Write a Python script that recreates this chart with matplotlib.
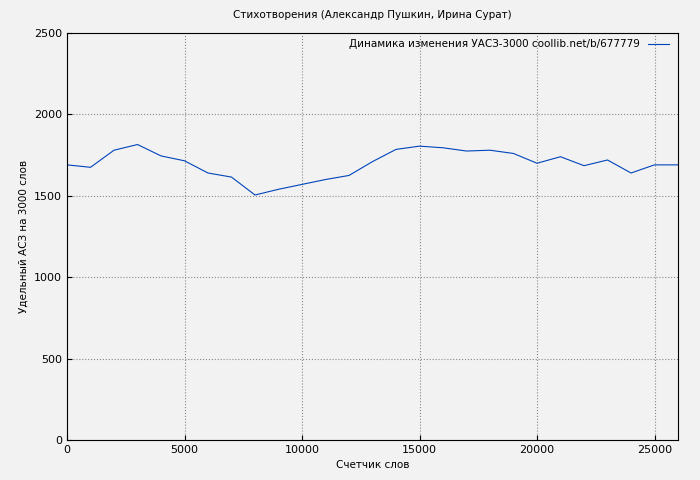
import matplotlib
matplotlib.use("Agg")
import matplotlib.pyplot as plt

words = [0, 1000, 2000, 3000, 4000, 5000, 6000, 7000, 8000, 9000, 10000, 11000, 12000, 13000,
         14000, 15000, 16000, 17000, 18000, 19000, 20000, 21000, 22000, 23000, 24000, 25000, 26000]
uasz = [1690, 1675, 1780, 1815, 1745, 1715, 1640, 1615, 1505, 1540, 1570, 1600, 1625, 1710,
        1785, 1805, 1795, 1775, 1780, 1760, 1700, 1740, 1685, 1720, 1640, 1690, 1690]

plt.rcParams['font.family'] = ['DejaVu Sans']
fig = plt.figure(figsize=(7, 4.8), dpi=100, facecolor='#f2f2f2')
ax = fig.add_axes([67/700, 40/480, 611/700, 407/480])
ax.set_facecolor('#f2f2f2')
ax.plot(words, uasz, color='#0044bb', linewidth=0.8, label='Динамика изменения УАСЗ-3000 coollib.net/b/677779')
ax.set_xlim(0, 26000)
ax.set_ylim(0, 2500)
ax.set_xticks(range(0, 26000, 5000))
ax.set_yticks(range(0, 2501, 500))
ax.grid(True, linestyle=':', color='#888888', linewidth=0.8)
ax.tick_params(labelsize=8, direction='in')
ax.set_xlabel('Счетчик слов', fontsize=7.5)
ax.set_ylabel('Удельный АСЗ на 3000 слов', fontsize=7.5)
ax.set_title('Стихотворения (Александр Пушкин, Ирина Сурат)', fontsize=7.5, pad=11)
ax.legend(loc='upper right', fontsize=7.5, frameon=False, markerfirst=False,
          borderaxespad=0.2, bbox_to_anchor=(0.995, 1.0))
fig.savefig('out.png', dpi=100, facecolor='#f2f2f2')
